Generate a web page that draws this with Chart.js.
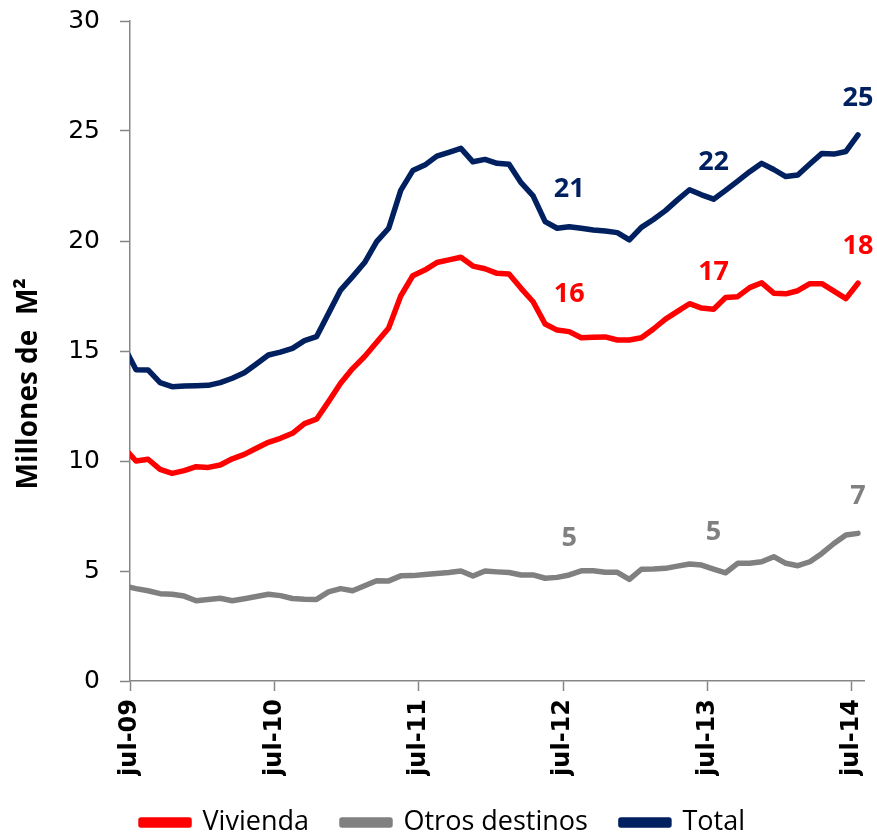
<!DOCTYPE html>
<html>
<head>
<meta charset="utf-8">
<script src="https://cdn.jsdelivr.net/npm/chart.js@4.4.1/dist/chart.umd.min.js"></script>
<style>
html,body{margin:0;padding:0;background:#ffffff;}
#wrap{width:877px;height:836px;}
</style>
</head>
<body>
<div id="wrap"><canvas id="c" width="877" height="836"></canvas></div>
<script>
const months = [
 "jun-09",
 "jul-09","ago-09","sep-09","oct-09","nov-09","dic-09","ene-10","feb-10","mar-10","abr-10","may-10","jun-10",
 "jul-10","ago-10","sep-10","oct-10","nov-10","dic-10","ene-11","feb-11","mar-11","abr-11","may-11","jun-11",
 "jul-11","ago-11","sep-11","oct-11","nov-11","dic-11","ene-12","feb-12","mar-12","abr-12","may-12","jun-12",
 "jul-12","ago-12","sep-12","oct-12","nov-12","dic-12","ene-13","feb-13","mar-13","abr-13","may-13","jun-13",
 "jul-13","ago-13","sep-13","oct-13","nov-13","dic-13","ene-14","feb-14","mar-14","abr-14","may-14","jun-14",
 "jul-14"
];
const firstShown = "jul-09";
const vivienda = [10.6,
 10.0,10.08,9.62,9.44,9.56,9.74,9.71,9.82,10.1,10.3,
 10.58,10.85,11.03,11.26,11.7,11.9,12.7,13.53,14.2,14.75,
 15.4,16.05,17.5,18.42,18.68,19.02,19.14,19.26,18.86,18.74,
 18.53,18.5,17.85,17.24,16.23,15.95,15.88,15.6,15.62,15.64,
 15.5,15.5,15.6,16.0,16.45,16.8,17.15,16.95,16.9,17.43,
 17.47,17.88,18.1,17.63,17.6,17.74,18.06,18.06,17.72,17.38,18.08];
const otros = [4.32,
 4.2,4.1,3.97,3.94,3.86,3.65,3.7,3.76,3.65,3.74,
 3.84,3.94,3.88,3.75,3.72,3.71,4.05,4.2,4.1,4.33,
 4.56,4.55,4.78,4.79,4.84,4.89,4.93,5.0,4.77,5.0,
 4.96,4.93,4.82,4.82,4.67,4.71,4.82,5.01,5.01,4.94,
 4.94,4.62,5.08,5.09,5.12,5.22,5.32,5.27,5.09,4.92,
 5.35,5.35,5.42,5.65,5.35,5.24,5.42,5.8,6.25,6.64,6.71];
const total = [15.2,
 14.15,14.14,13.56,13.38,13.41,13.42,13.44,13.56,13.76,14.01,
 14.41,14.82,14.95,15.12,15.47,15.65,16.71,17.77,18.38,19.02,
 19.97,20.58,22.3,23.2,23.45,23.86,24.03,24.21,23.6,23.71,
 23.53,23.49,22.65,22.05,20.88,20.58,20.65,20.58,20.5,20.45,
 20.38,20.05,20.62,20.98,21.38,21.87,22.33,22.1,21.9,22.3,
 22.72,23.15,23.53,23.25,22.93,23.0,23.5,23.98,23.95,24.07,24.82];
const seriesNames = ["Vivienda","Otros destinos","Total"];
const labelledMonths = ["jul-12", "jul-13", "jul-14"];
const yTicks = [0,5,10,15,20,25,30];
const yTitle = 'Millones de  M²';

const AXIS = '#868686';
const colors = ['#FF0000','#808080','#002060'];

const valueLabels = {
  id: 'valueLabels',
  afterDatasetsDraw(chart) {
    const ctx = chart.ctx;
    ctx.save();
    ctx.font = 'bold 27px "Open Sans"';
    ctx.textAlign = 'center';
    ctx.textBaseline = 'middle';
    chart.data.datasets.forEach((ds, di) => {
      const meta = chart.getDatasetMeta(di);
      ctx.fillStyle = ds.borderColor;
      labelledMonths.forEach(m => {
        const idx = months.indexOf(m);
        const pt = meta.data[idx];
        if (!pt) return;
        ctx.fillText(String(Math.round(ds.data[idx])), pt.x, pt.y - 37);
      });
    });
    ctx.restore();
  }
};

const mk = (name, data, color) => ({
  label: name, data: data,
  borderColor: color, backgroundColor: color,
  borderWidth: 5.5, pointRadius: 0, pointHoverRadius: 0,
  tension: 0, borderJoinStyle: 'round', borderCapStyle: 'round', fill: false,
  clip: { left: 0, right: 6, top: 6, bottom: 6 }
});

new Chart(document.getElementById('c'), {
  type: 'line',
  data: {
    labels: months,
    datasets: [
      mk(seriesNames[0], vivienda, colors[0]),
      mk(seriesNames[1], otros, colors[1]),
      mk(seriesNames[2], total, colors[2])
    ]
  },
  options: {
    responsive: false,
    animation: false,
    devicePixelRatio: 1,
    layout: { padding: { left: 22, right: 13, top: 21, bottom: -10 } },
    plugins: {
      tooltip: { enabled: false },
      legend: {
        position: 'bottom',
        labels: {
          font: { family: 'Open Sans', size: 27 },
          color: '#000',
          boxWidth: 48, boxHeight: 5,
          padding: 33
        }
      }
    },
    scales: {
      x: {
        type: 'category',
        min: firstShown,
        offset: true,
        grid: {
          offset: true,
          drawOnChartArea: false,
          drawTicks: true,
          tickLength: 10,
          tickWidth: 1.5,
          tickColor: (c) => (c.index % 12 === 0 && c.index <= 60) ? AXIS : 'rgba(0,0,0,0)'
        },
        border: { display: true, color: AXIS, width: 1.5 },
        ticks: {
          autoSkip: false,
          minRotation: 90, maxRotation: 90,
          labelOffset: -6,
          padding: 8,
          color: '#000',
          font: { family: 'DejaVu Sans', weight: 'bold', size: 24 },
          callback: function(value, index) { return index % 12 === 0 ? this.getLabelForValue(value) : ''; }
        },
        afterFit: (s) => { s.height = 95; s.paddingLeft = 0; s.paddingRight = 0; }
      },
      y: {
        min: 0, max: 30,
        afterBuildTicks: (s) => { s.ticks = yTicks.map(v => ({ value: v })); },
        grid: { drawOnChartArea: false, tickLength: 10, tickWidth: 1.5, tickColor: AXIS },
        border: { display: true, color: AXIS, width: 1.5 },
        ticks: {
          padding: 20, color: '#000',
          font: { family: 'DejaVu Sans', size: 25 }
        },
        title: {
          display: true, text: yTitle + '\u00A0'.repeat(9), color: '#000',
          font: { family: 'Open Sans', weight: 'bold', size: 28 },
          padding: { top: -10, bottom: 0 }
        },
        afterFit: (s) => { s.width = 108; s.paddingTop = 0; s.paddingBottom = 0; }
      }
    }
  },
  plugins: [valueLabels]
});
</script>
</body>
</html>
